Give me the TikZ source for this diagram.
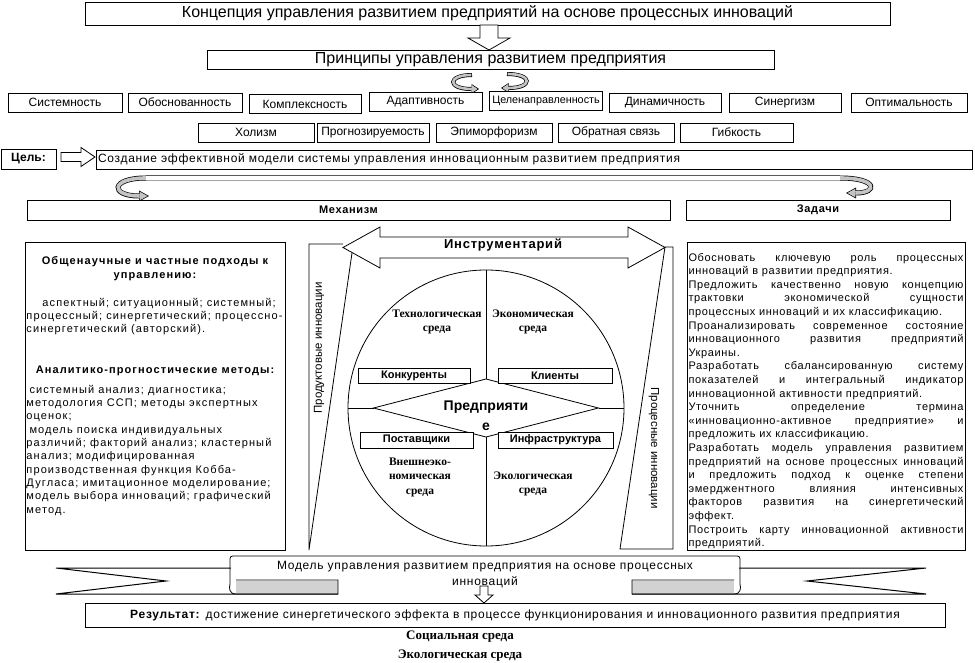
\documentclass[tikz,border=0pt]{standalone}
\usepackage{fontspec}
\setmainfont{Liberation Sans}
\newfontfamily\widefont[LetterSpace=6]{Liberation Sans}
\newfontfamily\widerfont[LetterSpace=10]{Liberation Sans}
\newfontfamily\serifbold{Liberation Serif}
\usepackage{tikz}
\usetikzlibrary{arrows.meta,positioning,calc,shapes.geometric}
\definecolor{rink}{HTML}{000000}
\definecolor{rcurl}{HTML}{C4C4C4}
\definecolor{rtab}{HTML}{D2D2D2}

\begin{document}
\begin{tikzpicture}[x=1pt,y=-1pt,line width=.8pt,
  every node/.style={inner sep=0pt,outer sep=0pt,text=rink},
  cell/.style={draw,fill=white,minimum height=19,font=\fontsize{12}{14}\selectfont},
  headbox/.style={draw,fill=white,minimum height=20,font=\widefont\bfseries\fontsize{11}{13}\selectfont},
  inbox/.style={draw,fill=white,minimum height=15,font=\bfseries\fontsize{11}{13}\selectfont},
  bodytext/.style={font=\widefont\fontsize{11}{13.6}\selectfont},
  lefttext/.style={font=\widerfont\fontsize{11}{13.35}\selectfont},
  envtext/.style={align=center,font=\serifbold\bfseries\fontsize{11.5}{14.5}\selectfont},
  hollow/.style={draw,fill=white,line join=miter},
  curlout/.style={line width=5pt},
  curlin/.style={line width=3.6pt,rcurl},
  smallout/.style={line width=4pt,-{Triangle[length=7.5pt,width=10pt,line width=0pt]}},
  smallin/.style={line width=2.6pt,rcurl,shorten >=1.4pt,shorten <=.7pt,-{Triangle[length=5.5pt,width=7.6pt,line width=0pt]}}]
  \useasboundingbox (0,0) rectangle (975,663);

  \node[draw,fill=white,minimum width=805,minimum height=23,font=\fontsize{16}{19}\selectfont] (concept) at (487.5,13.5) {Концепция управления развитием предприятий на основе процессных инноваций};
  \node[draw,fill=white,minimum width=567,minimum height=19,font=\fontsize{16}{19}\selectfont] (principles) at (490.5,59.5) {Принципы управления развитием предприятия};
  \draw[hollow] (480,25) -- (498,25) -- (498,38) -- (510,38) -- (489,50) -- (468,38) -- (480,38) -- cycle;

  \draw[smallout] (472,75) .. controls (447,75) and (447,89) .. (479,89);
  \draw[smallin] (472,75) .. controls (447,75) and (447,89) .. (479,89);
  \draw[smallout] (507,74) .. controls (533,74) and (533,88) .. (501,88);
  \draw[smallin] (507,74) .. controls (533,74) and (533,88) .. (501,88);

  \foreach \lbl/\cx/\bw/\cy [count=\i] in {Системность/65/114/102.5,Обоснованность/185/114/102.5,Комплексность/305/112/104,Адаптивность/425.5/113/101.5,{{\fontsize{10.8}{12}\selectfont Целенаправленность}}/546/113/101,Динамичность/665/112/102.5,Синергизм/785/112/102.5,Оптимальность/909/116/102.5}
    \node[cell,minimum width=\bw] (pa\i) at (\cx,\cy) {\lbl};
  \foreach \lbl/\cx/\bw [count=\i] in {Холизм/256/116,Прогнозируемость/373/112,Эпиморфоризм/494/116,Обратная связь/616/116,Гибкость/736.5/113}
    \node[cell,minimum width=\bw] (pb\i) at (\cx,132.5) {\lbl};

  \node[draw,fill=white,minimum width=55,minimum height=20,font=\bfseries\fontsize{12}{14}\selectfont] (aim) at (28.5,159) {Цель:};
  \node[draw,fill=white,anchor=west,minimum height=19,text width=872,inner xsep=2pt,align=left,font=\widefont\fontsize{12}{14}\selectfont] (goal) at (96,159.5) {Создание эффективной модели системы управления инновационным развитием предприятия};
  \draw[hollow] (61,152.5) -- (81,152.5) -- (81,147.5) -- (95,157) -- (81,166.5) -- (81,161.5) -- (61,161.5) -- cycle;

  \draw[curlout,{Triangle[length=10pt,width=11pt,line width=0pt]}-{Triangle[length=10pt,width=11pt,line width=0pt]}] (149,196) .. controls (110,196) and (110,178) .. (146,178) -- (840,178) .. controls (878,178) and (878,193) .. (846,193);
  \draw[curlin,shorten <=1.45pt,shorten >=1.45pt,{Triangle[length=7.85pt,width=8.6pt,line width=0pt]}-{Triangle[length=7.85pt,width=8.6pt,line width=0pt]}] (149,196) .. controls (110,196) and (110,178) .. (146,178) -- (840,178) .. controls (878,178) and (878,193) .. (846,193);
  \draw[line width=3.6pt,white] (146,178) -- (840,178);

  \node[headbox,minimum width=643] (mechanism) at (348.5,210) {Механизм};
  \node[headbox,minimum width=264] (tasks) at (818,210) {Задачи};

  \node[draw,minimum width=260,minimum height=308] (methods) at (155,396) {};
  \node[align=center,font=\widerfont\bfseries\fontsize{11}{13.4}\selectfont] (approach) at (155,268.5) {Общенаучные и частные подходы к\\управлению:};
  \node[lefttext,align=left,anchor=north west] (approachlist) at (26.5,298) {\hspace*{16pt}аспектный; ситуационный; системный;\\процессный; синергетический; процессно-\\синергетический (авторский).};
  \node[font=\widerfont\bfseries\fontsize{11}{13.4}\selectfont] (analytic) at (155,371) {Аналитико-прогностические методы:};
  \node[lefttext,align=left,anchor=north west] (analyticlist) at (26.5,385) {\hspace*{3pt}системный анализ; диагностика;\\методология ССП; методы экспертных\\оценок;\\\hspace*{3pt}модель поиска индивидуальных\\различий; факторий анализ; кластерный\\анализ; модифицированная\\производственная функция Кобба-\\Дугласа; имитационное моделирование;\\модель выбора инноваций; графический\\метод.};

  \node[draw,minimum width=278,minimum height=308] (taskbox) at (826,396) {};
  \node[bodytext,anchor=north west,text width=275,align=justify] (tasklist) at (688.5,253) {Обосновать ключевую роль процессных\linebreak инноваций в развитии предприятия.\newline Предложить качественно новую концепцию\linebreak трактовки экономической сущности\linebreak процессных инноваций и их классификацию.\newline Проанализировать современное состояние\linebreak инновационного развития предприятий\linebreak Украины.\newline Разработать сбалансированную систему\linebreak показателей и интегральный индикатор\linebreak инновационной активности предприятий.\newline Уточнить определение термина\linebreak «инновационно-активное предприятие» и\linebreak предложить их классификацию.\newline Разработать модель управления развитием\linebreak предприятий на основе процессных инноваций\linebreak и предложить подход к оценке степени\linebreak эмерджентного влияния интенсивных\linebreak факторов развития на синергетический\linebreak эффект.\newline Построить карту инновационной активности\linebreak предприятий.};

  \draw (343,244) -- (309,244) -- (309,550) -- (352,253);
  \draw (665,247) -- (673,247) -- (673,549) -- (620,549) -- cycle;
  \node[rotate=90,font=\fontsize{11.5}{13}\selectfont] (product) at (319,348) {Продуктовые инновации};
  \node[rotate=-90,font=\fontsize{11.5}{13}\selectfont] (process) at (654,448) {Процесные инновации};
  \draw[hollow] (343,247.5) -- (380,227) -- (380,237) -- (628,237) -- (628,227) -- (665,247.5) -- (628,268) -- (628,258) -- (380,258) -- (380,268) -- cycle;
  \node[font=\widefont\bfseries\fontsize{13}{15}\selectfont] (tools) at (503,245) {Инструментарий};

  \node[circle,draw,minimum size=276] (env) at (486,408) {};
  \node[diamond,draw,fill=white,minimum width=225,minimum height=58] (firm) at (486,408) {};
  \draw (env.north) -- (firm.north);
  \draw (firm.south) -- (env.south);
  \draw (env.west) -- (firm.west);
  \draw (firm.east) -- (env.east);
  \node[align=center,font=\bfseries\fontsize{14}{20}\selectfont] (firmname) at (486,416) {Предприяти\\е};
  \node[inbox,minimum width=112] (rivals) at (414,375.5) {Конкуренты};
  \node[inbox,minimum width=114] (clients) at (555,375.5) {Клиенты};
  \node[inbox,minimum width=113,minimum height=16] (suppliers) at (416.5,440) {Поставщики};
  \node[inbox,minimum width=115,minimum height=16] (infra) at (555.5,440) {Инфраструктура};
  \node[envtext] (techenv) at (437,322) {Технологическая\\среда};
  \node[envtext] (econenv) at (533,322) {Экономическая\\среда};
  \node[envtext] (extenv) at (420,477) {Внешнеэко-\\номическая\\среда};
  \node[envtext] (ecoenv) at (533,484) {Экологическая\\среда};

  \draw[line width=1pt] (236,568) -- (56,568) -- (166,581) -- (56,594) -- (338,594);
  \draw[line width=1pt] (734,568) -- (926,568) -- (807,581) -- (926,594) -- (632,594);
  \fill[rtab] (236,581) rectangle (338,593);
  \fill[rtab] (632,581) rectangle (734,593);
  \fill[white] (231,557) rectangle (739,580);
  \draw (236,580) -- (338,580) -- (338,594) -- (236,594) .. controls (229,594) and (229,588) .. (230,584) -- (230,562) .. controls (230,556) .. (236,556) -- (734,556) .. controls (740,556) .. (740,562) -- (740,584) .. controls (741,588) and (741,594) .. (734,594) -- (632,594) -- (632,580) -- (734,580);
  \node[align=center,font=\widefont\fontsize{12}{16}\selectfont] (model) at (485,575) {Модель управления развитием предприятия на основе процессных\\инноваций};
  \draw[hollow,fill=none] (480,586) -- (488,586) -- (488,595) -- (493,595) -- (484,603) -- (475,595) -- (480,595) -- cycle;

  \node[draw,fill=white,minimum width=860,minimum height=24,font=\widefont\fontsize{12}{14}\selectfont] (result) at (515,615) {\textbf{Результат:} достижение синергетического эффекта в процессе функционирования и инновационного развития предприятия};
  \node[font=\serifbold\bfseries\fontsize{13}{15}\selectfont] (social) at (460,637) {Социальная среда};
  \node[font=\serifbold\bfseries\fontsize{13}{15}\selectfont] (ecology) at (460,656) {Экологическая среда};
\end{tikzpicture}
\end{document}
